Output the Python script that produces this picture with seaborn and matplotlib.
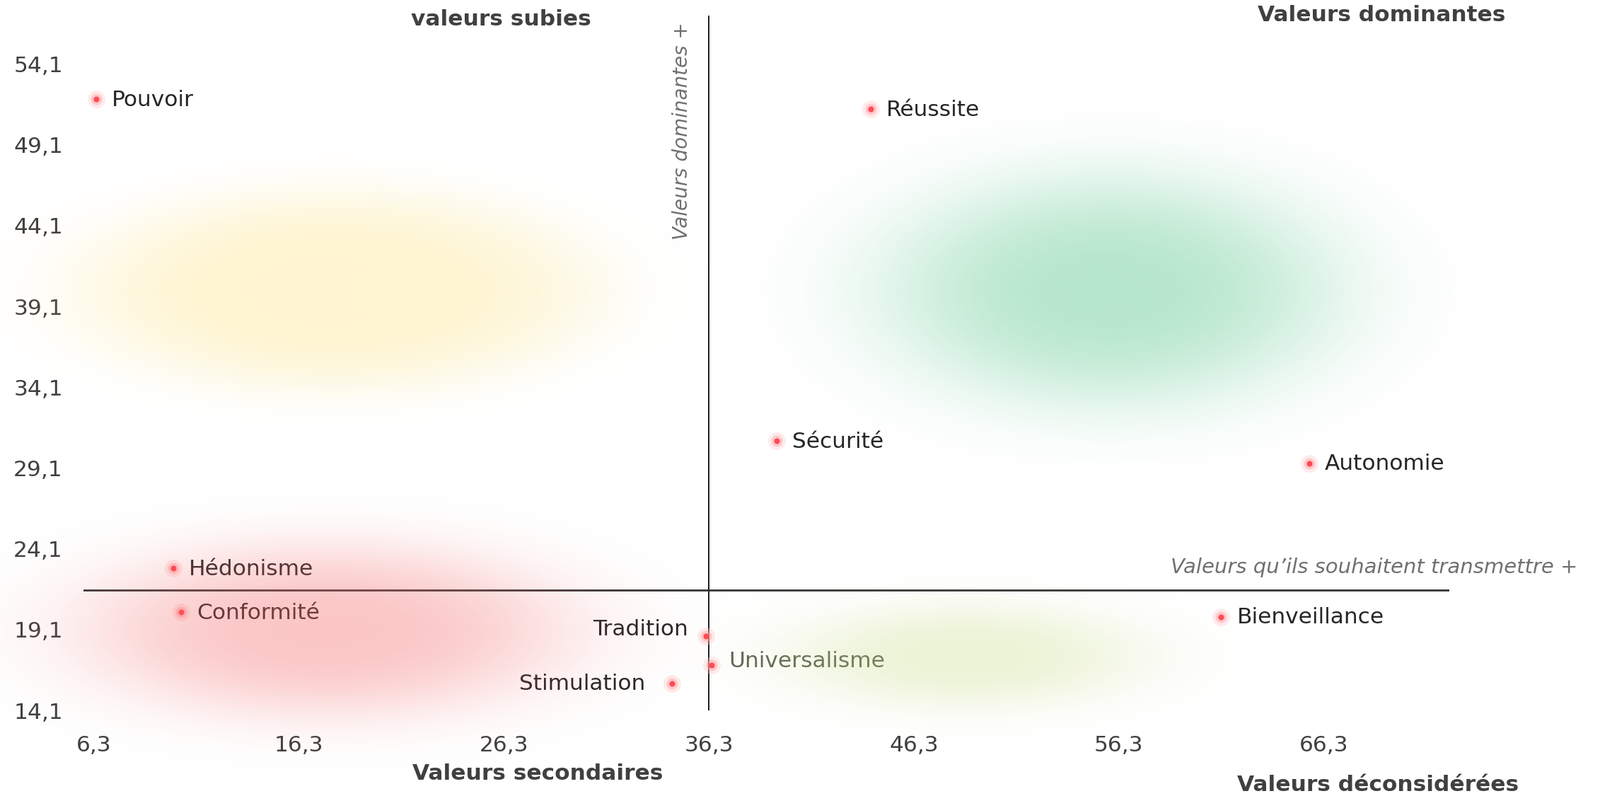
import numpy as np
import pandas as pd
import matplotlib
matplotlib.use('Agg')
import matplotlib.pyplot as plt
import seaborn as sns

# values
valeurs = ['Pouvoir', 'Réussite', 'Sécurité', 'Autonomie', 'Hédonisme', 'Conformité',
           'Tradition', 'Universalisme', 'Stimulation', 'Bienveillance']
transmettre = [6.4, 44.2, 39.6, 65.6, 10.15, 10.55, 36.15, 36.45, 34.5, 61.3]
dominantes = [51.95, 51.3, 30.8, 29.4, 22.9, 20.2, 18.7, 16.9, 15.75, 19.9]

x_ticks = [6.3, 16.3, 26.3, 36.3, 46.3, 56.3, 66.3]
y_ticks = [14.1, 19.1, 24.1, 29.1, 34.1, 39.1, 44.1, 49.1, 54.1]
x_cross = 36.3
y_cross = 21.55

df = pd.DataFrame({'valeur': valeurs, 'x': transmettre, 'y': dominantes})

# label placement (offset in points, alignment)
label_pos = {
    'Tradition': (-18, 7, 'right'),
    'Stimulation': (-27, 0, 'right'),
    'Universalisme': (17, 4, 'left'),
}

# soft coloured zones: centre x, centre y, half-width, half-height, colour, strength, edge
blobs = [
    (18.1, 40.1, 11.5, 5.6, (255, 220, 90), 0.29, 4),
    (55.9, 40.1, 9.8, 6.3, (60, 190, 120), 0.37, 3),
    (17.6, 19.0, 10.5, 4.7, (245, 100, 100), 0.37, 3),
    (48.9, 17.4, 7.8, 2.9, (190, 215, 110), 0.28, 3),
]

sns.set_theme(style='white')
plt.rcParams['font.family'] = ['DejaVu Sans']

W_px, H_px = 2262, 1125
fig = plt.figure(figsize=(W_px / 100, H_px / 100), dpi=100)
fig.patch.set_facecolor('white')

xmin, xmax = 5.78, 72.44
ymin, ymax = 14.1, 57.1
L, R = 118 / W_px, 2049 / W_px
B, T = 1 - 1004 / H_px, 1 - 22 / H_px
ax = fig.add_axes([L, B, R - L, T - B])
ax.set_xlim(xmin, xmax)
ax.set_ylim(ymin, ymax)
ax.patch.set_alpha(0)

# glowing red dots
sns.scatterplot(data=df, x='x', y='y', ax=ax, s=320, color='#ffc4c6', alpha=0.35,
                linewidth=0, legend=False, zorder=3)
sns.scatterplot(data=df, x='x', y='y', ax=ax, s=130, color='#ffa0a4', alpha=0.45,
                linewidth=0, legend=False, zorder=3)
sns.scatterplot(data=df, x='x', y='y', ax=ax, s=34, color='#ff4a53',
                linewidth=0, legend=False, zorder=4)

for _, row in df.iterrows():
    dx, dy, ha = label_pos.get(row['valeur'], (16, -1, 'left'))
    col = '#5f6656' if row['valeur'] == 'Universalisme' else '#262626'
    ax.annotate(row['valeur'], (row['x'], row['y']), xytext=(dx, dy),
                textcoords='offset points', ha=ha, va='center',
                fontsize=22.5, color=col, zorder=5)

ax.axvline(x_cross, color='#1a1a1a', lw=1.4, zorder=2)
ax.axhline(y_cross, color='#333333', lw=2.0, zorder=2)

ax.set_xticks(x_ticks)
ax.set_xticklabels([f'{v:.1f}'.replace('.', ',') for v in x_ticks])
ax.set_yticks(y_ticks)
ax.set_yticklabels([f'{v:.1f}'.replace('.', ',') for v in y_ticks])
ax.tick_params(axis='both', length=0, labelsize=22.5, labelcolor='#404040')
ax.tick_params(axis='y', pad=21)
ax.tick_params(axis='x', pad=25)
ax.set_xlabel('')
ax.set_ylabel('')
ax.grid(False)
for sp in ax.spines.values():
    sp.set_visible(False)

# quadrant captions
ax.text(35.0, 56.7, 'Valeurs dominantes +', rotation=90, ha='center', va='top',
        style='italic', fontsize=20, color='#707070', zorder=5)
ax.text(78.7, 22.95, 'Valeurs qu’ils souhaitent transmettre +', ha='right', va='center',
        style='italic', fontsize=21, color='#707070', zorder=5, clip_on=False)

# colour zones laid over the whole figure
ov = fig.add_axes([0, 0, 1, 1], zorder=3)
X0 = xmin - L * (xmax - xmin) / (R - L)
X1 = X0 + (xmax - xmin) / (R - L)
Y0 = ymin - B * (ymax - ymin) / (T - B)
Y1 = Y0 + (ymax - ymin) / (T - B)
ov.set_xlim(X0, X1)
ov.set_ylim(Y0, Y1)
ov.axis('off')
ov.patch.set_alpha(0)

gx = np.linspace(X0, X1, 566)
gy = np.linspace(Y0, Y1, 282)
XX, YY = np.meshgrid(gx, gy)
alpha_sum = np.zeros_like(XX)
rgb_sum = np.zeros(XX.shape + (3,))
for cx, cy, sx, sy, c, peak, p in blobs:
    r = np.sqrt(((XX - cx) / sx) ** 2 + ((YY - cy) / sy) ** 2)
    a = peak * np.exp(-np.log(2) * r ** p)
    alpha_sum += a
    rgb_sum += a[..., None] * (np.array(c) / 255.0)
rgba = np.zeros(XX.shape + (4,))
rgba[..., :3] = rgb_sum / np.maximum(alpha_sum, 1e-9)[..., None]
rgba[..., 3] = np.clip(alpha_sum, 0, 1)
ov.imshow(rgba, extent=(X0, X1, Y0, Y1), origin='lower', aspect='auto',
          interpolation='bilinear')

bold = dict(fontsize=22.5, fontweight='bold', color='#404040', ha='center', va='center',
            zorder=10)
fig.text(708 / W_px, 1 - 27 / H_px, 'valeurs subies', **bold)
fig.text(1953 / W_px, 1 - 22 / H_px, 'Valeurs dominantes', **bold)
fig.text(760 / W_px, 1 - 1093 / H_px, 'Valeurs secondaires', **bold)
fig.text(1948 / W_px, 1 - 1109 / H_px, 'Valeurs déconsidérées', **bold)

fig.savefig('out.png', dpi=100, facecolor='white')
